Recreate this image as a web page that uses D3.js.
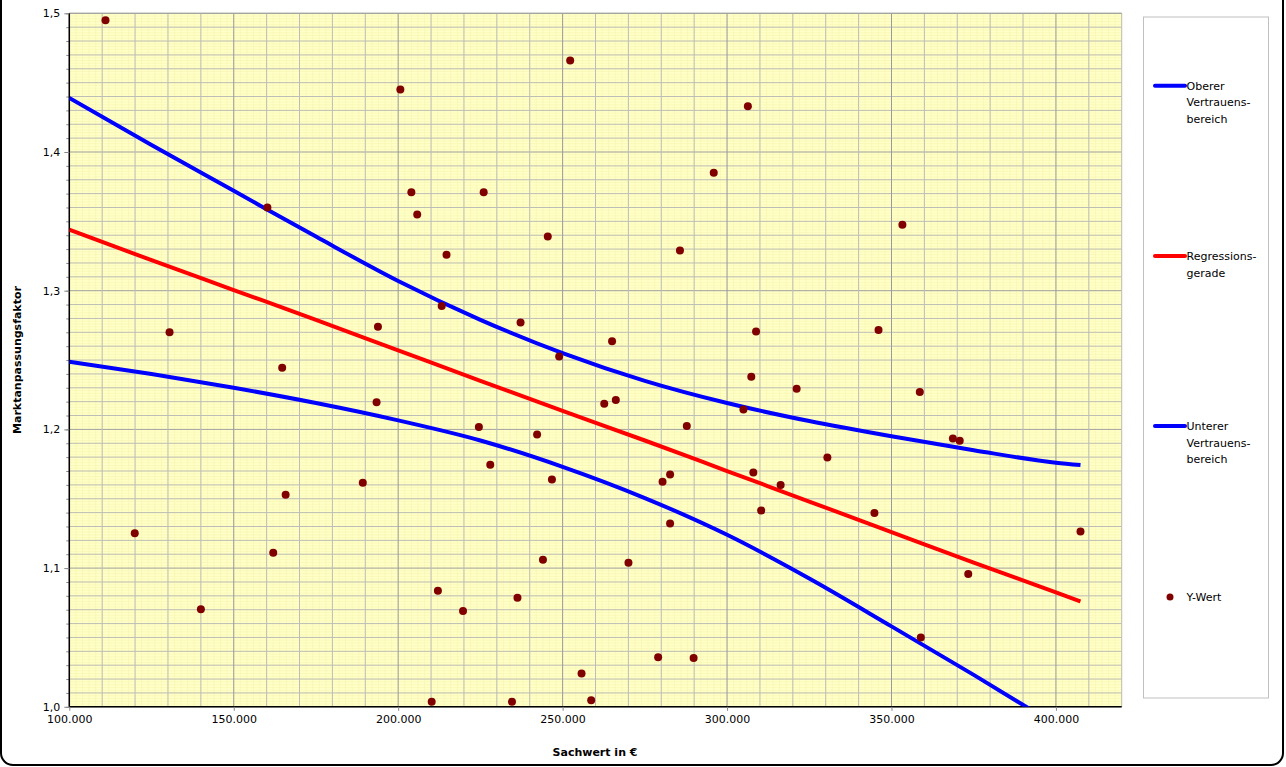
<!DOCTYPE html>
<html><head><meta charset="utf-8">
<script src="https://cdn.jsdelivr.net/npm/d3@7"></script>
<style>body{margin:0;background:#fff;overflow:hidden}svg{display:block}</style>
</head><body><svg id="c" width="1286" height="767"></svg>
<script>
// ---- data ----
const pointX = [111000,252300,200660,204010,226000,160230,205790,245490,214700,213230,193850,130480,237210,248950,
  306330,295950,353320,285680,308820,346060,265040,164730,193430,224540,242240,228000,246750,189240,165780,119900,
  162010,244020,212080,140010,236270,219720,255760,210190,234600,258690,307370,321160,358610,262660,266180,304980,
  287760,368670,370750,330500,282680,280390,307990,316290,310370,344810,282680,407470,270020,373340,358920,279050,289830];
const pointY = [1.495,1.466,1.445,1.371,1.371,1.360,1.355,1.339,1.326,1.289,1.274,1.270,1.277,1.2525,
  1.433,1.385,1.3475,1.329,1.2706,1.2716,1.2636,1.2445,1.2195,1.2017,1.1964,1.1745,1.1639,1.1615,1.1529,1.1252,
  1.1111,1.106,1.0837,1.0704,1.0786,1.069,1.024,1.0036,1.0036,1.0048,1.238,1.2293,1.2269,1.2185,1.2212,1.2144,
  1.2024,1.1935,1.1918,1.1798,1.1675,1.1623,1.169,1.1599,1.1416,1.1397,1.1322,1.1264,1.1038,1.0957,1.050,1.0358,1.0351];
const curveX = [100000,125000,150000,175000,200000,225000,250000,275000,300000,325000,350000,375000,400000,407470];
const upperY = [1.439,1.405,1.372,1.339,1.307,1.279,1.255,1.235,1.219,1.206,1.195,1.185,1.176,1.1743];
const regY   = [1.344,1.322,1.3005,1.279,1.257,1.235,1.2133,1.192,1.170,1.148,1.126,1.104,1.0825,1.076];
const lowerY = [1.2488,1.2399,1.2300,1.2190,1.2065,1.1920,1.1730,1.1505,1.1240,1.0925,1.0580,1.0230,0.987,0.976];
const xTickValues = [100000,150000,200000,250000,300000,350000,400000];
const yTickValues = [1.0,1.1,1.2,1.3,1.4,1.5];
const legendLabels = [["Oberer","Vertrauens-","bereich"],["Regressions-","gerade"],["Unterer","Vertrauens-","bereich"],["Y-Wert"]];
const xTitle = "Sachwert in €";
const yTitle = "Marktanpassungsfaktor";

// ---- drawing ----
const loc = d3.formatLocale({decimal:",",thousands:".",grouping:[3],currency:["","€"]});
const fx = loc.format(",.0f"), fy = loc.format(".1f");
const svg = d3.select("#c");
const FONT = "DejaVu Sans, Verdana, sans-serif";
const L = 69.3, R = 1121.7, T = 13.3, B = 706.8;
const x = d3.scaleLinear().domain([100000,420000]).range([L,R]);
const y = d3.scaleLinear().domain([1.0,1.5]).range([B,T]);

svg.append("rect").attr("x",1).attr("y",-30).attr("width",1282).attr("height",795)
  .attr("rx",12).attr("fill","#fff").attr("stroke","#000").attr("stroke-width",2);

svg.append("defs").append("clipPath").attr("id","clip").append("rect")
  .attr("x",L).attr("y",T).attr("width",R-L).attr("height",B-T);

const g = svg.append("g");
g.append("rect").attr("x",L).attr("y",T).attr("width",R-L).attr("height",B-T).attr("fill","#FFFFC8");

// fine yellow grid
const fineX = d3.range(100000,420001,2000), fineY = d3.range(0,251).map(i=>1+i*0.002);
g.selectAll(".fx").data(fineX).join("line").attr("x1",d=>x(d)).attr("x2",d=>x(d)).attr("y1",T).attr("y2",B)
  .attr("stroke","#F7F2AA").attr("stroke-width",0.5);
g.selectAll(".fy").data(fineY).join("line").attr("y1",d=>y(d)).attr("y2",d=>y(d)).attr("x1",L).attr("x2",R)
  .attr("stroke","#F7F2AA").attr("stroke-width",0.5);
// minor grid
const minX = d3.range(100000,420001,10000), minY = d3.range(0,51).map(i=>+(1+i*0.01).toFixed(2));
g.selectAll(".mx").data(minY).join("line").attr("y1",d=>y(d)).attr("y2",d=>y(d)).attr("x1",L).attr("x2",R)
  .attr("stroke",(d,i)=>i%10===0?"#A0A0A0":"#BDBDB5").attr("stroke-width",1);
g.selectAll(".my").data(minX).join("line").attr("x1",d=>x(d)).attr("x2",d=>x(d)).attr("y1",T).attr("y2",B)
  .attr("stroke",(d,i)=>i%5===0?"#9A9A9A":"#BDBDB5").attr("stroke-width",1);
g.append("line").attr("x1",L).attr("x2",R).attr("y1",T).attr("y2",T).attr("stroke","#A0A0A0");

// axes
const yAxisMinor = d3.axisLeft(y).tickValues(minY).tickSize(3).tickFormat("");
const yAxis = d3.axisLeft(y).tickValues(yTickValues).tickSize(5).tickFormat(fy).tickPadding(4);
const xAxis = d3.axisBottom(x).tickValues(xTickValues).tickSize(4).tickFormat(fx).tickPadding(4);
const ya1 = svg.append("g").attr("transform",`translate(${L},0)`).call(yAxisMinor);
const ya = svg.append("g").attr("transform",`translate(${L},0)`).call(yAxis);
const xa = svg.append("g").attr("transform",`translate(0,${B})`).call(xAxis);
[ya1,ya,xa].forEach(a=>{a.select(".domain").attr("stroke","#000").attr("stroke-width",1.5);
  a.selectAll(".tick line").attr("stroke","#888");
  a.selectAll("text").attr("font-family",FONT).attr("font-size",11).attr("fill","#000");});
ya1.select(".domain").remove();
xa.select(".domain").attr("d",`M${L},0H${R}`);
ya.select(".domain").attr("d",`M0,${T}V${B}`);

// lines
const lineGen = arr => d3.line().curve(d3.curveMonotoneX).x((d,i)=>x(curveX[i])).y(d=>y(d))(arr);
const lg = svg.append("g").attr("clip-path","url(#clip)");
[[upperY,"#0000FF"],[regY,"#FF0000"],[lowerY,"#0000FF"]].forEach(([arr,c])=>{
  lg.append("path").attr("d",lineGen(arr)).attr("fill","none").attr("stroke",c).attr("stroke-width",4);
});
// points
svg.append("g").selectAll("circle").data(pointX).join("circle")
  .attr("cx",d=>x(d)).attr("cy",(d,i)=>y(pointY[i])).attr("r",4).attr("fill","#800000");

// titles
svg.append("text").attr("x",595).attr("y",756).attr("text-anchor","middle").attr("font-family",FONT)
  .attr("font-size",11).attr("font-weight","bold").text(xTitle);
svg.append("text").attr("transform","translate(21,360) rotate(-90)").attr("text-anchor","middle").attr("font-family",FONT)
  .attr("font-size",11).attr("font-weight","bold").text(yTitle);

// legend
svg.append("rect").attr("x",1143.5).attr("y",17).attr("width",125).attr("height",681).attr("fill","#fff")
  .attr("stroke","#C0C0C0").attr("stroke-width",1);
const legY = [85.7,256,426,597];
const legKinds = ["#0000FF","#FF0000","#0000FF","pt"];
legendLabels.forEach((lines,i)=>{
  const yy = legY[i];
  if (legKinds[i]==="pt") svg.append("circle").attr("cx",1170).attr("cy",yy).attr("r",3.5).attr("fill","#800000");
  else svg.append("line").attr("x1",1155).attr("x2",1185).attr("y1",yy).attr("y2",yy)
    .attr("stroke",legKinds[i]).attr("stroke-width",4).attr("stroke-linecap","round");
  const t = svg.append("text").attr("font-family",FONT).attr("font-size",11).attr("fill","#000");
  lines.forEach((s,j)=>t.append("tspan").attr("x",1186.5).attr("y",yy+4+j*16.7).text(s));
});
</script></body></html>
